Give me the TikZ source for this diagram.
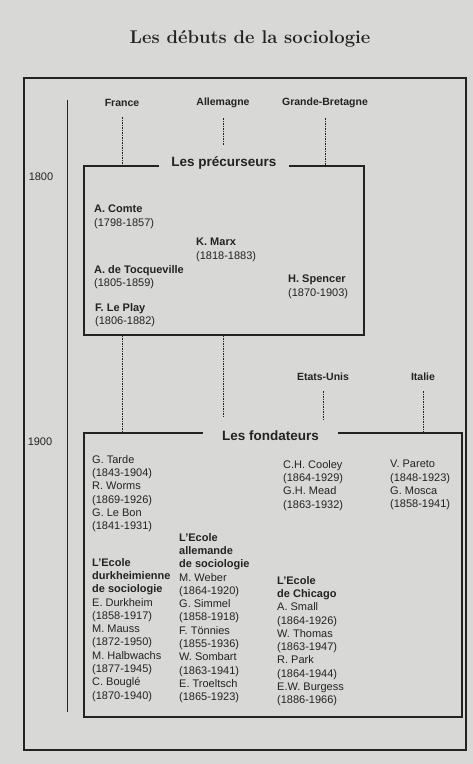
\documentclass[tikz,border=0pt]{standalone}
\usepackage{fontspec}
\setsansfont{Liberation Sans}
\usetikzlibrary{positioning}
\definecolor{page}{RGB}{216,216,214}
\definecolor{ink}{RGB}{35,35,35}
\tikzset{
  frame/.style={draw=ink,line width=1.1pt},
  box/.style={draw=ink,line width=1.5pt,inner sep=0pt},
  link/.style={ink,dash pattern=on 1.5pt off 1pt,line width=0.8pt},
  country/.style={font=\sffamily\bfseries\fontsize{10.5}{12}\selectfont,text=ink},
  boxtitle/.style={font=\sffamily\bfseries\fontsize{13.5}{15}\selectfont,text=ink,fill=page,inner ysep=2pt},
  entry/.style={font=\sffamily\fontsize{11}{13.3}\selectfont,text=ink,align=left,anchor=north west,inner sep=0pt},
  year/.style={font=\sffamily\fontsize{11}{13}\selectfont,text=ink}
}

\begin{document}
\begin{tikzpicture}[x=1pt,y=-1pt]
  \fill[page] (0,0) rectangle (473,764);
  \useasboundingbox (0,0) rectangle (473,764);
  \node[font=\bfseries\fontsize{18.4}{20}\selectfont,text=ink,anchor=base] (title) at (250,43) {Les débuts de la sociologie};
  \draw[frame] (24,78) rectangle (466,750);
  % time axis
  \coordinate (t0) at (67,100);
  \coordinate (t1) at (67,712);
  \draw[ink,line width=0.9pt] (t0) -- (t1);
  \node[year] (y1800) at (41,177) {1800};
  \node[year] (y1900) at (40,442) {1900};
  % countries
  \node[country] (fr) at (122,103) {France};
  \node[country] (de) at (223,103) {Allemagne};
  \node[country] (gb) at (325,103) {Grande-Bretagne};
  \node[country] (us) at (323,377) {Etats-Unis};
  \node[country] (it) at (423,377) {Italie};
  % boxes
  \node[box,minimum width=280,minimum height=169] (prec) at (224,250.5) {};
  \node[box,minimum width=378,minimum height=284] (fond) at (273,575) {};
  \node[boxtitle,inner xsep=12pt] (tprec) at (224,163) {Les précurseurs};
  \node[boxtitle,inner xsep=19.5pt] (tfond) at (270.5,436) {Les fondateurs};
  % dashed links
  \draw[link,shorten <=7pt] (fr.south) -- (fr.south |- prec.north);
  \draw[link,shorten <=7pt,shorten >=20pt] (de.south) -- (de.south |- prec.north);
  \draw[link,shorten <=7pt] (gb.south) -- (gb.south |- prec.north);
  \draw[link] (prec.south -| fr) -- (fond.north -| fr);
  \draw[link,shorten >=15pt] (prec.south -| de) -- (fond.north -| de);
  \draw[link,shorten <=7pt,shorten >=13pt] (us.south) -- (us.south |- fond.north);
  \draw[link,shorten <=7pt] (it.south) -- (it.south |- fond.north);
  % precurseurs
  \node[entry] (comte) at (94,205) {\textbf{A. Comte}\\(1798-1857)};
  \node[entry] (marx) at (196,238) {\textbf{K. Marx}\\(1818-1883)};
  \node[entry] (tocq) at (94,265) {\textbf{A. de Tocqueville}\\(1805-1859)};
  \node[entry] (spencer) at (288,275) {\textbf{H. Spencer}\\(1870-1903)};
  \node[entry] (leplay) at (95,303) {\textbf{F. Le Play}\\(1806-1882)};
  % fondateurs
  \node[entry] (tarde) at (92,455) {G. Tarde\\(1843-1904)\\R. Worms\\(1869-1926)\\G. Le Bon\\(1841-1931)};
  \node[entry] (cooley) at (283,460) {C.H. Cooley\\(1864-1929)\\G.H. Mead\\(1863-1932)};
  \node[entry] (pareto) at (390,460) {V. Pareto\\(1848-1923)\\G. Mosca\\(1858-1941)};
  \node[entry] (durkheim) at (92,558) {\textbf{L'Ecole}\\\textbf{durkheimienne}\\\textbf{de sociologie}\\E. Durkheim\\(1858-1917)\\M. Mauss\\(1872-1950)\\M. Halbwachs\\(1877-1945)\\C. Bouglé\\(1870-1940)};
  \node[entry] (weber) at (179,533) {\textbf{L'Ecole}\\\textbf{allemande}\\\textbf{de sociologie}\\M. Weber\\(1864-1920)\\G. Simmel\\(1858-1918)\\F. Tönnies\\(1855-1936)\\W. Sombart\\(1863-1941)\\E. Troeltsch\\(1865-1923)};
  \node[entry] (chicago) at (277,576) {\textbf{L'Ecole}\\\textbf{de Chicago}\\A. Small\\(1864-1926)\\W. Thomas\\(1863-1947)\\R. Park\\(1864-1944)\\E.W. Burgess\\(1886-1966)};
\end{tikzpicture}
\end{document}
